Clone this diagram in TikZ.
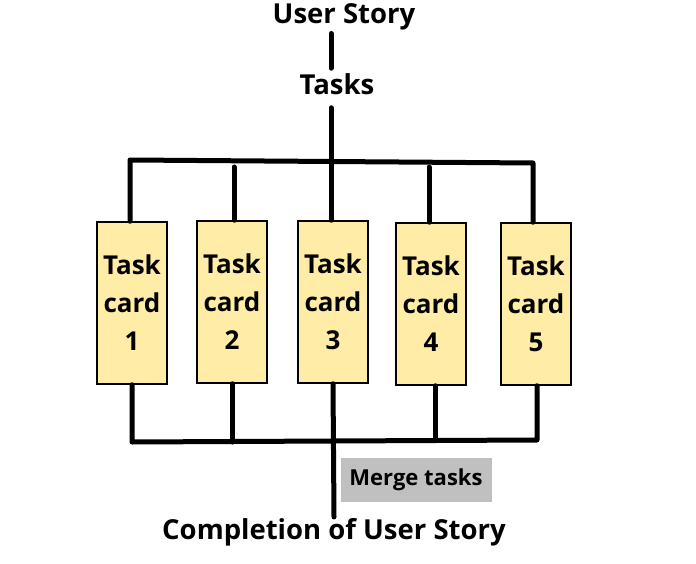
\documentclass[tikz,border=0pt]{standalone}
\usepackage{fontspec}
\setmainfont{Open Sans}
\usetikzlibrary{positioning}
\definecolor{cardyellow}{RGB}{255,236,166}
\definecolor{mergegray}{RGB}{192,192,192}
\begin{document}
\begin{tikzpicture}[x=1pt, y=-1pt,
    card/.style={rectangle, draw, line width=1.5pt, fill=cardyellow, minimum width=70pt, minimum height=162pt, align=center, font=\fontsize{26}{38}\selectfont\bfseries},
    lbl/.style={inner sep=1pt, font=\fontsize{27.5}{30}\selectfont\bfseries},
    wire/.style={line width=5pt, line cap=round, line join=round}]
    \useasboundingbox (0,0) rectangle (696,564);
    \node[lbl] (story) at (344,17) {User Story};
    \node[lbl] (tasks) at (337,84) {Tasks};
    \node[card] (c1) at (132,303) {Task\\card\\1};
    \node[card] (c2) at (232,302) {Task\\card\\2};
    \node[card] (c3) at (333,302) {Task\\card\\3};
    \node[card] (c4) at (431,304) {Task\\card\\4};
    \node[card] (c5) at (536,304) {Task\\card\\5};
    \node[fill=mergegray, minimum width=151pt, minimum height=44pt, font=\fontsize{22}{24}\selectfont\bfseries] (merge) at (416,480) {Merge tasks};
    \node[lbl] (done) at (334,532) {Completion of User Story};

    \coordinate (tl) at (130,160);
    \coordinate (tr) at (533,163);
    \coordinate (t2) at (234,167);
    \coordinate (t4) at (429,167);
    \coordinate (bl) at (132,442);
    \coordinate (br) at (537,440);

    \draw[wire, shorten <=2pt, shorten >=4pt] ([xshift=-13pt]story.south) -- ([xshift=-6pt]tasks.north);
    \draw[wire, shorten <=12pt] ([xshift=-6pt]tasks.south) -- ([xshift=-2pt]c3.north);
    \draw[wire] (c1.north -| tl) -- (tl) -- (tr) -- (c5.north -| tr);
    \draw[wire] (t2) -- (t2 |- c2.north);
    \draw[wire] (t4) -- (t4 |- c4.north);
    \draw[wire] (c1.south) -- (c1.south |- bl) -- (br) -- (br |- c5.south);
    \draw[wire] (c2.south) -- (c2.south |- bl);
    \draw[wire] ([xshift=4pt]c4.south) -- ([xshift=4pt]c4.south |- br);
    \draw[wire] (c3.south) -- (done.north);
\end{tikzpicture}
\end{document}
